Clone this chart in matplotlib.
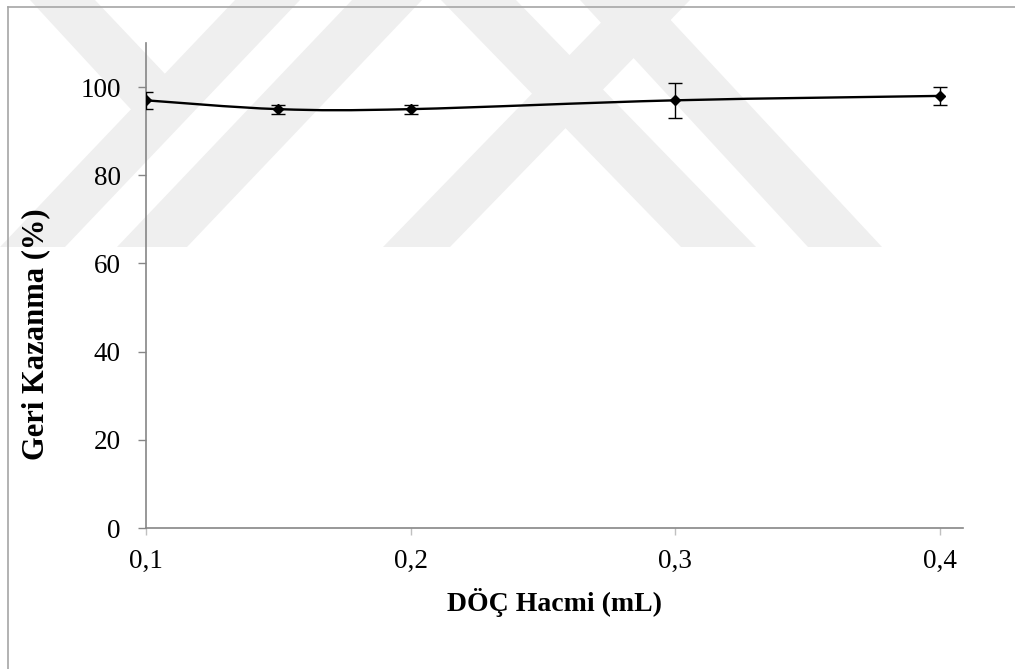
import numpy as np
import matplotlib.pyplot as plt
from matplotlib.path import Path
from matplotlib.patches import PathPatch, Polygon
from matplotlib.lines import Line2D

# veriler
doc_hacmi = [0.1, 0.15, 0.2, 0.3, 0.4]
geri_kazanma = [97, 95, 95, 97, 98]
hata = [2, 1, 1, 4, 2]
x_ticks = [0.1, 0.2, 0.3, 0.4]
x_tick_labels = ['0,1', '0,2', '0,3', '0,4']
y_ticks = [0, 20, 40, 60, 80, 100]

W, H = 1015, 669
plt.rcParams['font.family'] = ['Liberation Serif', 'DejaVu Serif']

fig = plt.figure(figsize=(W / 100, H / 100), dpi=100)

# arka plandaki filigran (piksel koordinatlari, y asagi dogru)
def px(pts):
    return [(x / W, 1 - y / H) for x, y in pts]

watermark = [
    [(0, 247), (65, 247), (300, 0), (235, 0)],
    [(30, 0), (95, 0), (185, 95), (150, 130)],
    [(117, 247), (187, 247), (422, 0), (352, 0)],
    [(383, 247), (450, 247), (690, 0), (623, 0)],
    [(441, 0), (516, 0), (756, 247), (681, 247)],
    [(580, 0), (652, 0), (882, 247), (808, 247)],
]
for p in watermark:
    fig.patches.append(Polygon(px(p), closed=True, transform=fig.transFigure,
                               facecolor='#efefef', edgecolor='none', zorder=-5))

# cerceve
fig.add_artist(Line2D([8 / W, 8 / W], [0, 1 - 7 / H], color='#a6a6a6', lw=1.2))
fig.add_artist(Line2D([8 / W, 1], [1 - 7 / H, 1 - 7 / H], color='#a6a6a6', lw=1.2))

ax = fig.add_axes([146 / W, (H - 528) / H, (963 - 146) / W, (528 - 43) / H])
ax.patch.set_alpha(0)
ax.set_zorder(2)

# Excel tarzi yumusak cizgi (Catmull-Rom -> Bezier)
xs = np.array(doc_hacmi)
ys = np.array(geri_kazanma, dtype=float)
pts = np.column_stack([xs, ys])
ext = np.vstack([pts[0], pts, pts[-1]])
verts = [tuple(pts[0])]
codes = [Path.MOVETO]
for i in range(len(pts) - 1):
    p0, p1, p2, p3 = ext[i], ext[i + 1], ext[i + 2], ext[i + 3]
    c1 = p1 + (p2 - p0) / 6
    c2 = p2 - (p3 - p1) / 6
    verts += [tuple(c1), tuple(c2), tuple(p2)]
    codes += [Path.CURVE4] * 3
ax.add_patch(PathPatch(Path(verts, codes), facecolor='none', edgecolor='black',
                       lw=1.7, zorder=3))

ax.errorbar(doc_hacmi, geri_kazanma, yerr=hata, fmt='D', color='black',
            ms=5.5, ecolor='black', elinewidth=1, capsize=4.7, capthick=1, zorder=4)

ax.set_xlim(0.1, 0.4087)
ax.set_ylim(0, 110)
ax.set_xticks(x_ticks)
ax.set_xticklabels(x_tick_labels)
ax.set_yticks(y_ticks)

for s in ['top', 'right']:
    ax.spines[s].set_visible(False)
for s in ['left', 'bottom']:
    ax.spines[s].set_color('#868686')
    ax.spines[s].set_linewidth(1.2)

ax.tick_params(axis='y', direction='out', length=6, width=1, color='#868686',
               labelsize=19.5, pad=12)
ax.tick_params(axis='x', direction='out', length=5, width=1, color='#c0c0c0',
               labelsize=19.5, pad=10)

ax.set_xlabel('DÖÇ Hacmi (mL)', fontsize=20, fontweight='bold', labelpad=10)
ax.set_ylabel('Geri Kazanma (%)', fontsize=22, fontweight='bold')
ax.yaxis.set_label_coords(-0.117, 0.40)

fig.savefig('out.png', dpi=100)
